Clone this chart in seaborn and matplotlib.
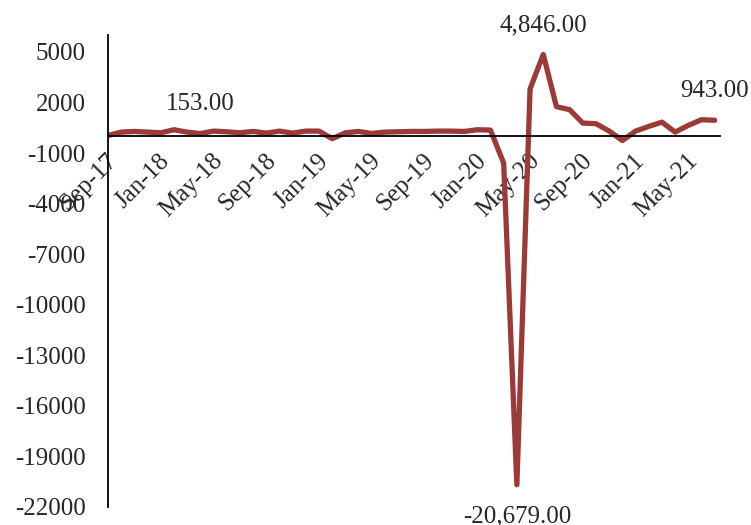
import matplotlib
matplotlib.use('Agg')
import matplotlib.pyplot as plt
import matplotlib.transforms as mtransforms
import seaborn as sns
import pandas as pd

# monthly series, Sep-17 .. Jul-21
months = ['Sep-17', 'Oct-17', 'Nov-17', 'Dec-17', 'Jan-18', 'Feb-18', 'Mar-18', 'Apr-18',
          'May-18', 'Jun-18', 'Jul-18', 'Aug-18', 'Sep-18', 'Oct-18', 'Nov-18', 'Dec-18',
          'Jan-19', 'Feb-19', 'Mar-19', 'Apr-19', 'May-19', 'Jun-19', 'Jul-19', 'Aug-19',
          'Sep-19', 'Oct-19', 'Nov-19', 'Dec-19', 'Jan-20', 'Feb-20', 'Mar-20', 'Apr-20',
          'May-20', 'Jun-20', 'Jul-20', 'Aug-20', 'Sep-20', 'Oct-20', 'Nov-20', 'Dec-20',
          'Jan-21', 'Feb-21', 'Mar-21', 'Apr-21', 'May-21', 'Jun-21', 'Jul-21']
values = [40, 240, 280, 240, 200, 380, 240, 153,
          300, 260, 200, 280, 180, 300, 180, 300,
          300, -150, 200, 280, 160, 240, 260, 280,
          280, 300, 300, 280, 380, 360, -1600, -20679,
          2800, 4846, 1750, 1570, 775, 740, 300, -260,
          300, 580, 830, 240, 640, 975, 943]
yticks = [5000, 2000, -1000, -4000, -7000, -10000, -13000, -16000, -19000, -22000]
# points that carry a value label (month names)
labelled = ['Apr-18', 'Jun-20', 'Apr-20', 'Jul-21']

df = pd.DataFrame({'pos': range(len(months)), 'month': months, 'value': values})

sns.set_style('white')
plt.rcParams['font.family'] = ['Liberation Serif', 'DejaVu Serif']

fig = plt.figure(figsize=(7.51, 5.25), dpi=100)
ax = fig.add_axes([0.1438, 0.0343, 0.8149, 0.899])

line_color = '#9B3A37'
sns.lineplot(data=df, x='pos', y='value', ax=ax, color=line_color, linewidth=3.8,
             solid_capstyle='round', solid_joinstyle='round')

# x axis crosses at zero (set before tick styling, it resets the ticks)
ax.spines['bottom'].set_position(('data', 0))
for s in ['top', 'right']:
    ax.spines[s].set_visible(False)
for s in ['left', 'bottom']:
    ax.spines[s].set_color('black')
    ax.spines[s].set_linewidth(1.3)

ax.set_xlim(0, 46.4)
ax.set_ylim(-22000, 6000)
ax.set_yticks(yticks)
ax.set_yticklabels([str(v) for v in yticks], fontsize=18)
ax.tick_params(axis='y', length=0, pad=16)

tick_pos = list(range(0, len(months), 4))
ax.set_xticks(tick_pos)
ax.set_xticklabels([months[i] for i in tick_pos], fontsize=18, rotation=45,
                   ha='right', va='center', rotation_mode='anchor')
ax.tick_params(axis='x', length=0, pad=14)
# nudge the rotated labels a little to the right, like the original
shift = mtransforms.ScaledTranslation(6 / 100, -2 / 100, fig.dpi_scale_trans)
for lbl in ax.get_xticklabels():
    lbl.set_transform(lbl.get_transform() + shift)
ax.set_xlabel('')
ax.set_ylabel('')

for m in labelled:
    i = months.index(m)
    v = values[i]
    off = -23 if v < -10000 else 21
    ax.annotate(f'{v:,.2f}', xy=(i, v), xytext=(0, off), textcoords='offset points',
                ha='center', va='center', fontsize=18, annotation_clip=False)

fig.savefig('out.png', dpi=100)
